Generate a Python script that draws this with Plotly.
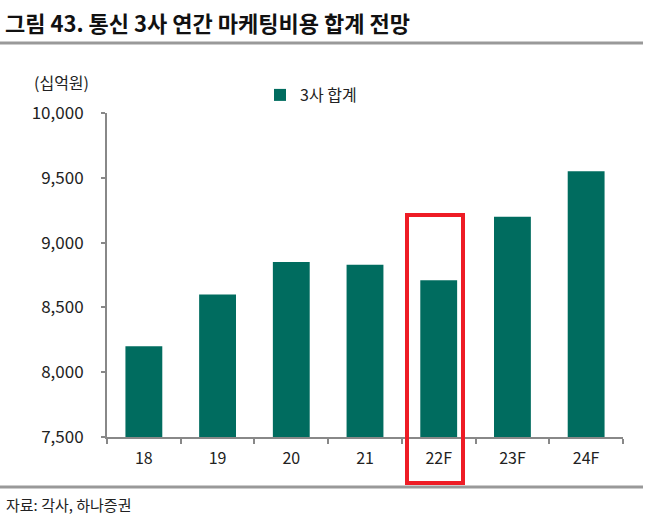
import plotly.graph_objects as go

categories = ["18", "19", "20", "21", "22F", "23F", "24F"]
values = [8200, 8600, 8850, 8830, 8710, 9200, 9550]
tick_vals = [7500, 8000, 8500, 9000, 9500, 10000]
tick_text = ["7,500", "8,000", "8,500", "9,000", "9,500", "10,000"]
series_name = "3사 합계"
title_text = "그림 43. 통신 3사 연간 마케팅비용 합계 전망"
unit_text = "(십억원)"
source_text = "자료: 각사, 하나증권"

FONT = "Noto Sans CJK KR"
W, H = 658, 529
L, R, T, B = 107, 35, 113, 92
pw, ph = W - L - R, H - T - B

def px(x):
    return (x - L) / pw

def py(y):
    return (H - B - y) / ph

fig = go.Figure()
fig.add_trace(go.Bar(
    x=categories, y=values, name=series_name,
    marker=dict(color="#006C5F", line=dict(width=0)),
    width=0.5,
))

fig.update_layout(
    width=W, height=H,
    margin=dict(l=L, r=R, t=T, b=B),
    paper_bgcolor="white", plot_bgcolor="white",
    font=dict(family=FONT, size=16, color="#222222"),
    showlegend=True,
    legend=dict(orientation="h", x=px(260), y=py(95), xanchor="left", yanchor="middle",
                font=dict(size=16, color="#222222"), bgcolor="rgba(0,0,0,0)",
                itemwidth=30),
    xaxis=dict(
        showline=True, linecolor="#888888", linewidth=2,
        ticks="outside", ticklen=5, tickcolor="#888888", tickwidth=2,
        tickson="boundaries", showgrid=False,
        ticklabelstandoff=6,
        tickfont=dict(size=16, color="#222222"),
    ),
    yaxis=dict(
        range=[7500, 10000], tickvals=tick_vals, ticktext=tick_text,
        showline=True, linecolor="#888888", linewidth=2,
        ticks="outside", ticklen=4, tickcolor="#888888", tickwidth=2,
        showgrid=False, zeroline=False,
        ticklabelstandoff=14,
        tickfont=dict(size=17, color="#222222"),
    ),
    bargap=0.5,
)

fig.add_annotation(text="<b>" + title_text + "</b>", xref="paper", yref="paper",
                   x=px(3), y=py(22), xanchor="left", yanchor="middle", showarrow=False,
                   font=dict(size=22, color="#111111", family=FONT))
fig.add_annotation(text=unit_text, xref="paper", yref="paper",
                   x=px(91), y=py(82), xanchor="right", yanchor="middle", showarrow=False,
                   font=dict(size=16, color="#222222", family=FONT))
fig.add_annotation(text=source_text, xref="paper", yref="paper",
                   x=px(4), y=py(504), xanchor="left", yanchor="middle", showarrow=False,
                   font=dict(size=15, color="#222222", family=FONT))

fig.add_shape(type="line", xref="paper", yref="paper",
              x0=px(0), x1=px(643), y0=py(43), y1=py(43),
              line=dict(color="#999999", width=3))
fig.add_shape(type="line", xref="paper", yref="paper",
              x0=px(0), x1=px(643), y0=py(487), y1=py(487),
              line=dict(color="#999999", width=3))
fig.add_shape(type="rect", xref="paper", yref="paper",
              x0=px(407), x1=px(463), y0=py(483), y1=py(215),
              line=dict(color="#EE1C25", width=4))

fig.write_html("out.html", config={"displayModeBar": False},
               post_script="document.body.style.margin='0px';")
